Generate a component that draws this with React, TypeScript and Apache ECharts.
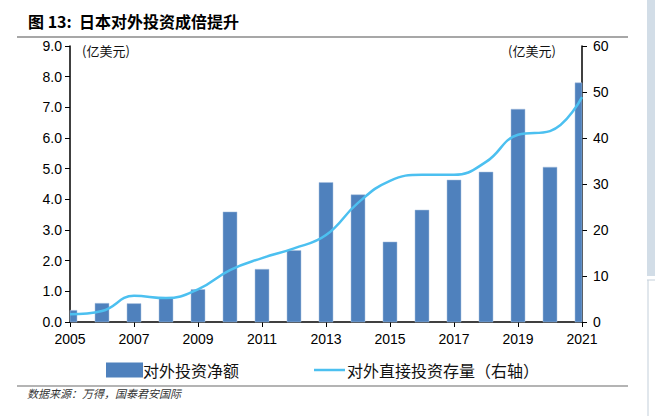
import React, { useEffect, useRef } from "react";
import * as echarts from "echarts";

const years = ["2005","2006","2007","2008","2009","2010","2011","2012","2013","2014","2015","2016","2017","2018","2019","2020","2021"];
const netInvestment = [0.38, 0.61, 0.6, 0.78, 1.06, 3.59, 1.72, 2.33, 4.55, 4.15, 2.61, 3.65, 4.63, 4.89, 6.94, 5.05, 7.8];
const fdiStock = [1.7, 2.4, 5.7, 5.2, 7.1, 11.3, 13.9, 16.0, 18.9, 25.9, 30.7, 32.0, 32.0, 34.8, 40.7, 41.5, 48.9];
const leftName = "对外投资净额";
const rightName = "对外直接投资存量（右轴）";

const CJK = '"Noto Sans CJK SC", "Noto Sans", sans-serif';
const NUM = '"Liberation Sans", Arial, sans-serif';
const BAR_COLOR = "#4f81bd";
const LINE_COLOR = "#4cc0f0";

export default function App() {
  const ref = useRef<HTMLDivElement>(null);
  useEffect(() => {
    if (!ref.current) return;
    const chart = echarts.init(ref.current, undefined, { renderer: "svg" });
    chart.setOption({
      animation: false,
      backgroundColor: "#ffffff",
      grid: { left: 70, right: 73, top: 46, bottom: 94 },
      legend: [
        {
          data: [{ name: leftName, icon: "rect" }],
          left: 101,
          top: 357,
          itemWidth: 37,
          itemHeight: 15,
          textStyle: { fontFamily: CJK, fontSize: 16, color: "#111", padding: [0, 0, 0, -5] },
          selectedMode: false,
        },
        {
          data: [{ name: rightName, icon: "rect", itemStyle: { color: LINE_COLOR } }],
          left: 309,
          top: 357,
          itemWidth: 31,
          itemHeight: 2.5,
          textStyle: { fontFamily: CJK, fontSize: 16, color: "#111", padding: [0, 0, 0, -3] },
          selectedMode: false,
        },
      ],
      xAxis: {
        type: "category",
        data: years,
        boundaryGap: false,
        axisLine: { lineStyle: { color: "#000", width: 1.5 } },
        axisTick: { show: true, length: 5, interval: 1, lineStyle: { color: "#000" } },
        axisLabel: { interval: 1, margin: 10, fontFamily: NUM, fontSize: 14, color: "#000" },
      },
      yAxis: [
        {
          type: "value",
          min: 0,
          max: 9,
          interval: 1,
          splitLine: { show: false },
          axisLine: { show: true, lineStyle: { color: "#000", width: 1.5 } },
          axisTick: { show: true, length: 5, lineStyle: { color: "#000" } },
          axisLabel: { margin: 8, fontFamily: NUM, fontSize: 14, color: "#000", formatter: (v: number) => v.toFixed(1) },
        },
        {
          type: "value",
          min: 0,
          max: 60,
          interval: 10,
          position: "right",
          splitLine: { show: false },
          axisLine: { show: true, lineStyle: { color: "#000", width: 1.5 } },
          axisTick: { show: true, length: 5, lineStyle: { color: "#000" } },
          axisLabel: { margin: 11, fontFamily: NUM, fontSize: 14, color: "#000" },
        },
      ],
      series: [
        {
          name: leftName,
          type: "custom",
          yAxisIndex: 0,
          data: netInvestment.map((v, i) => [i, v]),
          encode: { x: 0, y: 1 },
          itemStyle: { color: BAR_COLOR },
          z: 2,
          renderItem: (params: any, api: any) => {
            const idx = api.value(0);
            const base = api.coord([idx, 0]);
            const top = api.coord([idx, api.value(1)]);
            const w = 14;
            const rect = { x: base[0] - w / 2, y: top[1], width: w, height: base[1] - top[1] };
            const cs = params.coordSys;
            const clipped = echarts.graphic.clipRectByRect(rect, { x: cs.x, y: cs.y, width: cs.width, height: cs.height });
            if (!clipped) return null;
            return {
              type: "rect",
              shape: clipped,
              style: { fill: BAR_COLOR, stroke: "#a8c0de", lineWidth: 0.5 },
            };
          },
        },
        {
          name: rightName,
          type: "line",
          data: fdiStock,
          yAxisIndex: 1,
          smooth: 0.45,
          symbol: "none",
          lineStyle: { color: LINE_COLOR, width: 2.5 },
          itemStyle: { color: LINE_COLOR },
          z: 3,
        },
      ],
      graphic: [
        {
          type: "text",
          left: 28,
          top: 13,
          style: { text: "图 13:  日本对外投资成倍提升", fontFamily: CJK, fontSize: 16, fontWeight: "bold", fill: "#000" },
        },
        { type: "line", shape: { x1: 17, y1: 37, x2: 628, y2: 37 }, style: { stroke: "#8a8a8a", lineWidth: 1.5 } },
        { type: "line", shape: { x1: 17, y1: 386, x2: 628, y2: 386 }, style: { stroke: "#6a6a6a", lineWidth: 1.2 } },
        {
          type: "text",
          left: 27,
          top: 387,
          style: { text: "数据来源：万得，国泰君安国际", fontFamily: CJK, fontSize: 11, fontStyle: "italic", fill: "#333" },
        },
        {
          type: "text",
          left: 82,
          top: 44,
          style: { text: "(亿美元)", fontFamily: CJK, fontSize: 13, fill: "#111" },
        },
        {
          type: "text",
          left: 508,
          top: 44,
          style: { text: "(亿美元)", fontFamily: CJK, fontSize: 13, fill: "#111" },
        },
        { type: "rect", shape: { x: 647, y: 0, width: 8, height: 276 }, style: { fill: "#d2dde7" } },
        { type: "line", shape: { x1: 648, y1: 280, x2: 648, y2: 416 }, style: { stroke: "#c3cfda", lineWidth: 1 } },
        { type: "line", shape: { x1: 647, y1: 280, x2: 655, y2: 280 }, style: { stroke: "#c3cfda", lineWidth: 1 } },
      ],
    });
    return () => chart.dispose();
  }, []);
  return <div ref={ref} style={{ width: 655, height: 416, position: "absolute", left: 0, top: 0 }} />;
}
